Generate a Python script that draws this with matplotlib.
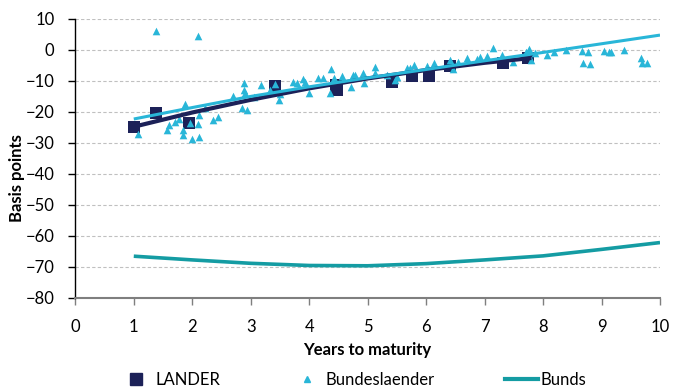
import numpy as np
import matplotlib
matplotlib.use("Agg")
import matplotlib.pyplot as plt
from matplotlib.lines import Line2D

plt.rcParams["font.family"] = ["Lato", "DejaVu Sans"]

NAVY = "#1c2158"
LIGHT = "#29b6d8"
TEAL = "#149ca3"

# LANDER bonds (years to maturity, spread in bp)
lander_x = [1.0, 1.38, 1.95, 3.42, 4.46, 4.48, 5.42, 5.75, 6.05, 6.40, 7.31, 7.74]
lander_y = [-25.0, -20.5, -23.5, -11.6, -11.2, -12.8, -10.2, -8.5, -8.5, -5.3, -4.2, -2.6]

# Bundeslaender bonds
bl_x = [1.08, 1.385, 2.09, 1.57, 1.61, 1.71, 1.77, 1.87, 1.85, 1.85, 2.00, 2.12,
        1.97, 2.10, 2.11, 2.22, 2.35, 2.44, 2.70, 2.88, 2.88, 2.91, 2.85, 2.93,
        3.05, 3.17, 3.33, 3.42, 3.48, 3.50, 3.73, 3.80, 3.90, 3.93, 3.99, 4.15,
        4.24, 4.35, 4.38, 4.42, 4.56, 4.72, 4.75, 4.79, 4.92, 4.94, 5.13, 5.13,
        5.33, 5.47, 5.51, 5.67, 5.73, 5.79, 6.02, 6.13, 6.40, 6.46, 6.55, 6.70,
        6.87, 6.92, 7.04, 7.15, 7.29, 7.49, 7.70, 7.76, 7.80, 7.86, 8.06, 8.18,
        8.39, 8.67, 8.77, 8.69, 8.81, 9.04, 9.12, 9.17, 9.38, 9.68, 9.69, 9.78]
bl_y = [-27.0, 6.1, 4.6, -25.9, -24.3, -23.2, -22.4, -17.3, -25.9, -27.5, -28.9, -28.1,
        -23.7, -23.9, -21.0, -18.8, -22.7, -21.6, -14.9, -10.6, -12.9, -14.0, -18.6, -19.4,
        -15.1, -11.4, -12.8, -11.1, -16.2, -14.2, -10.4, -10.8, -9.5, -10.4, -13.8, -9.2,
        -9.2, -14.0, -6.2, -9.2, -8.5, -11.9, -8.1, -8.1, -7.4, -10.7, -5.6, -7.6,
        -8.1, -9.7, -8.6, -5.9, -5.7, -4.9, -5.2, -4.3, -3.1, -6.3, -3.8, -2.7,
        -2.8, -2.2, -1.9, 0.5, -1.6, -4.0, -0.7, 0.2, -3.1, -1.1, -1.5, -0.8,
        -0.1, -0.2, -0.5, -4.2, -4.5, -0.2, -0.7, -0.5, 0.0, -2.7, -4.1, -4.3]

# trend lines
lander_fit_x = [1, 2, 3, 4, 5, 6, 7, 7.8]
lander_fit_y = [-24.8, -20.2, -16.1, -12.4, -9.2, -6.5, -4.15, -2.6]
bl_fit_x = [1, 2, 3, 4, 5, 6, 7, 8, 9, 10]
bl_fit_y = [-22.3, -18.6, -15.0, -11.9, -9.0, -6.3, -3.5, -0.8, 2.0, 4.8]

# Bunds curve
bunds_x = [1, 2, 3, 4, 5, 6, 7, 8, 9, 10]
bunds_y = [-66.6, -67.8, -68.9, -69.6, -69.7, -69.0, -67.8, -66.5, -64.4, -62.2]

fig = plt.figure(figsize=(6.73, 3.90), dpi=100)
ax = fig.add_axes([0.1119, 0.2367, 0.8688, 0.7146])

ax.scatter(lander_x, lander_y, marker="s", s=75, color=NAVY, linewidths=0, zorder=2)
ax.scatter(bl_x, bl_y, marker="^", s=30, color=LIGHT, linewidths=0, zorder=3)
ax.plot(lander_fit_x, lander_fit_y, color=NAVY, lw=3.0, zorder=4, solid_capstyle="butt")
ax.plot(bl_fit_x, bl_fit_y, color=LIGHT, lw=2.2, zorder=5, solid_capstyle="butt")
ax.plot(bunds_x, bunds_y, color=TEAL, lw=2.6, zorder=5, solid_capstyle="butt")

ax.set_xlim(0, 10)
ax.set_ylim(-80, 10)
ax.set_xticks(range(0, 11))
ax.set_yticks(range(-80, 11, 10))
ax.grid(axis="y", color="#c0c0c0", linestyle=(0, (3, 2)), linewidth=0.8)
ax.set_axisbelow(True)

for s in ["top", "right"]:
    ax.spines[s].set_visible(False)
ax.spines["left"].set_color("black")
ax.spines["left"].set_linewidth(1.0)
ax.spines["bottom"].set_color("#7f7f7f")
ax.spines["bottom"].set_linewidth(1.5)
ax.tick_params(axis="y", length=5, width=1, color="black", pad=10, labelsize=12)
ax.tick_params(axis="x", length=5, width=1, color="#7f7f7f", pad=10, labelsize=12)

ax.set_xlabel("Years to maturity", fontsize=12, fontweight="bold")
ax.set_ylabel("Basis points", fontsize=12, fontweight="bold")
ax.xaxis.set_label_coords(0.5, -0.188)
ax.yaxis.set_label_coords(-0.1, 0.43)
ax.xaxis.label.set_va("center")
ax.yaxis.label.set_va("center")

handles = [
    Line2D([], [], marker="s", ls="none", color=NAVY, markersize=8),
    Line2D([], [], marker="^", ls="none", color=LIGHT, markersize=5),
    Line2D([], [], color=TEAL, lw=3),
]
fig.legend(handles, ["LANDER", "Bundeslaender", "Bunds"], loc="center",
           bbox_to_anchor=(0.5245, 0.0256), ncol=3, frameon=False, fontsize=12,
           handlelength=2.0, handletextpad=0.15, columnspacing=4.2,
           borderpad=0, borderaxespad=0)

fig.savefig("out.png", dpi=100)
